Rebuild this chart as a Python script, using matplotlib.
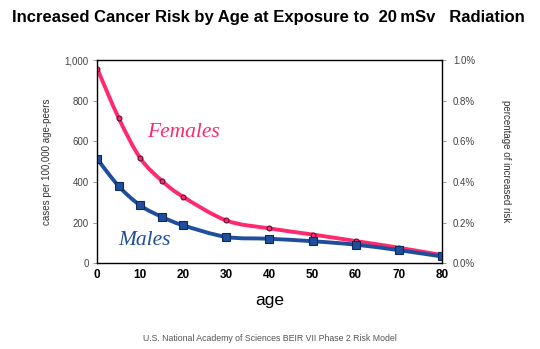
import matplotlib.pyplot as plt
from matplotlib.path import Path
from matplotlib.patches import PathPatch
import numpy as np

plt.rcParams["font.family"] = ["Liberation Sans", "DejaVu Sans"]

ages = [0, 5, 10, 15, 20, 30, 40, 50, 60, 70, 80]
females = [958, 714, 517, 406, 326, 210, 171, 141, 109, 76, 40]
males = [513, 379, 284, 228, 186, 129, 120, 108, 91, 64, 33]
left_ticks = [0, 200, 400, 600, 800, 1000]
left_labels = ["0", "200", "400", "600", "800", "1,000"]
right_labels = ["0.0%", "0.2%", "0.4%", "0.6%", "0.8%", "1.0%"]
x_ticks = [0, 10, 20, 30, 40, 50, 60, 70, 80]

pink = "#ff2a6d"
blue = "#1f4f9c"


def smooth_path(x, y):
    # Catmull-Rom through the points, as cubic Bezier segments
    p = np.column_stack([x, y]).astype(float)
    verts = [p[0]]
    codes = [Path.MOVETO]
    for i in range(len(p) - 1):
        p0 = p[i - 1] if i > 0 else p[i]
        p3 = p[i + 2] if i + 2 < len(p) else p[i + 1]
        c1 = p[i] + (p[i + 1] - p0) / 6
        c2 = p[i + 1] - (p3 - p[i]) / 6
        verts += [c1, c2, p[i + 1]]
        codes += [Path.CURVE4] * 3
    return Path(verts, codes)


fig = plt.figure(figsize=(5.4, 3.49), dpi=100)
ax = fig.add_axes([0.18, 0.246, 0.638, 0.582])

for vals, col in [(females, pink), (males, blue)]:
    ax.add_patch(PathPatch(smooth_path(ages, vals), facecolor="none",
                           edgecolor=col, lw=2.8, capstyle="round", zorder=2))

ax.plot(ages, females, "o", ms=3.5, mfc=pink, mec="#5a1030", mew=0.8, zorder=3)
ax.plot(ages, males, "s", ms=5.5, mfc=blue, mec="#0d2a5c", mew=0.8, zorder=3)

ax.set_xlim(0, 80)
ax.set_ylim(0, 1000)
ax.set_xticks(x_ticks)
ax.set_xticklabels([str(t) for t in x_ticks], fontsize=8.5, fontweight="bold")
ax.tick_params(axis="x", length=0, pad=4)
ax.set_yticks(left_ticks)
ax.set_yticklabels(left_labels, fontsize=7, color="#444444")
ax.tick_params(axis="y", length=3, width=0.6, color="#888888", pad=3)
for s in ax.spines.values():
    s.set_linewidth(1.0)
    s.set_color("#333333")

ax2 = ax.twinx()
ax2.set_ylim(0, 1000)
ax2.set_yticks(left_ticks)
ax2.set_yticklabels(right_labels, fontsize=7, color="#444444")
ax2.tick_params(axis="y", length=3, width=0.6, color="#888888", pad=5)
ax2.set_ylabel("percentage of increased risk", fontsize=7, color="#333333",
               rotation=-90, labelpad=26)

ax.set_ylabel("cases per 100,000 age-peers", fontsize=7, color="#333333", labelpad=9)
ax.set_xlabel("age", fontsize=12.5, labelpad=9)

ax.text(11.6, 645, "Females", color=pink, fontsize=15.5, style="italic",
        family="Liberation Serif", va="center")
ax.text(4.9, 113, "Males", color=blue, fontsize=15.5, style="italic",
        family="Liberation Serif", va="center")

fig.text(0.497, 0.95, "Increased Cancer Risk by Age at Exposure to  20\u2009mSv   Radiation",
         ha="center", va="center", fontsize=12, fontweight="bold")
fig.text(0.5, 0.03, "U.S. National Academy of Sciences BEIR VII Phase 2 Risk Model",
         ha="center", va="center", fontsize=6.3, color="#555555")

fig.savefig("out.png", dpi=100)
